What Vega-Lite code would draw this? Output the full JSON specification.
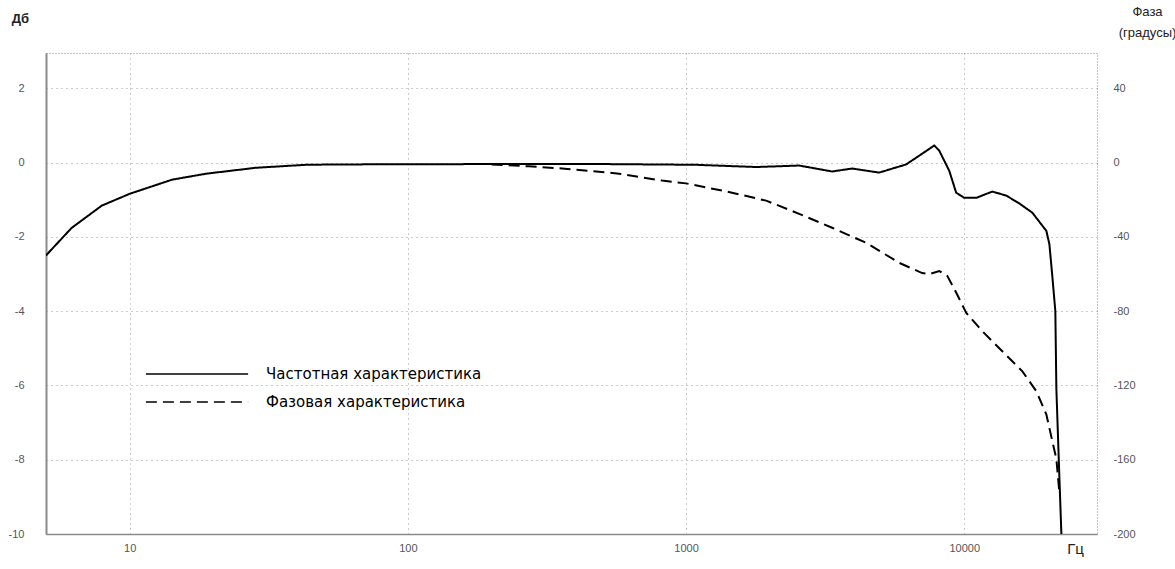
{
  "$schema": "https://vega.github.io/schema/vega-lite/v6.json",
  "autosize": "none",
  "width": 1051,
  "height": 481,
  "padding": {"left": 46, "top": 53, "right": 78, "bottom": 35},
  "background": "white",
  "config": {
    "font": "Liberation Sans",
    "view": {"stroke": "#8a8a8a", "strokeDash": [1, 2], "strokeWidth": 1},
    "axis": {"labelFont": "Liberation Sans", "labelFontSize": 11, "labelColor": "#555", "ticks": false, "titleFont": "Liberation Sans"}
  },
  "datasets": {
    "mag": [
      {"f": 5, "v": -2.5, "s": "Частотная характеристика"},
      {"f": 6.18, "v": -1.76, "s": "Частотная характеристика"},
      {"f": 7.93, "v": -1.16, "s": "Частотная характеристика"},
      {"f": 10, "v": -0.84, "s": "Частотная характеристика"},
      {"f": 14.2, "v": -0.46, "s": "Частотная характеристика"},
      {"f": 18.8, "v": -0.3, "s": "Частотная характеристика"},
      {"f": 28.4, "v": -0.14, "s": "Частотная характеристика"},
      {"f": 43, "v": -0.06, "s": "Частотная характеристика"},
      {"f": 57, "v": -0.05, "s": "Частотная характеристика"},
      {"f": 200, "v": -0.04, "s": "Частотная характеристика"},
      {"f": 500, "v": -0.04, "s": "Частотная характеристика"},
      {"f": 1087, "v": -0.06, "s": "Частотная характеристика"},
      {"f": 1786, "v": -0.12, "s": "Частотная характеристика"},
      {"f": 2549, "v": -0.08, "s": "Частотная характеристика"},
      {"f": 3349, "v": -0.24, "s": "Частотная характеристика"},
      {"f": 3953, "v": -0.16, "s": "Частотная характеристика"},
      {"f": 4943, "v": -0.27, "s": "Частотная характеристика"},
      {"f": 6180, "v": -0.05, "s": "Частотная характеристика"},
      {"f": 7060, "v": 0.24, "s": "Частотная характеристика"},
      {"f": 7800, "v": 0.46, "s": "Частотная характеристика"},
      {"f": 8130, "v": 0.32, "s": "Частотная характеристика"},
      {"f": 8830, "v": -0.22, "s": "Частотная характеристика"},
      {"f": 9350, "v": -0.81, "s": "Частотная характеристика"},
      {"f": 10000, "v": -0.95, "s": "Частотная характеристика"},
      {"f": 11050, "v": -0.95, "s": "Частотная характеристика"},
      {"f": 12610, "v": -0.78, "s": "Частотная характеристика"},
      {"f": 14160, "v": -0.89, "s": "Частотная характеристика"},
      {"f": 15770, "v": -1.1, "s": "Частотная характеристика"},
      {"f": 17570, "v": -1.35, "s": "Частотная характеристика"},
      {"f": 19730, "v": -1.84, "s": "Частотная характеристика"},
      {"f": 20230, "v": -2.2, "s": "Частотная характеристика"},
      {"f": 20750, "v": -3.1, "s": "Частотная характеристика"},
      {"f": 21250, "v": -4.0, "s": "Частотная характеристика"},
      {"f": 21430, "v": -6.08, "s": "Частотная характеристика"},
      {"f": 21980, "v": -8.5, "s": "Частотная характеристика"},
      {"f": 22340, "v": -10, "s": "Частотная характеристика"}
    ],
    "phase": [
      {"f": 200, "v": -1, "s": "Фазовая характеристика"},
      {"f": 272, "v": -2, "s": "Фазовая характеристика"},
      {"f": 358, "v": -3.2, "s": "Фазовая характеристика"},
      {"f": 486, "v": -4.9, "s": "Фазовая характеристика"},
      {"f": 574, "v": -6, "s": "Фазовая характеристика"},
      {"f": 820, "v": -9.7, "s": "Фазовая характеристика"},
      {"f": 1000, "v": -11.2, "s": "Фазовая характеристика"},
      {"f": 1463, "v": -16.2, "s": "Фазовая характеристика"},
      {"f": 1940, "v": -20.5, "s": "Фазовая характеристика"},
      {"f": 2549, "v": -27.6, "s": "Фазовая характеристика"},
      {"f": 3349, "v": -35.1, "s": "Фазовая характеристика"},
      {"f": 4437, "v": -43.2, "s": "Фазовая характеристика"},
      {"f": 5834, "v": -54, "s": "Фазовая характеристика"},
      {"f": 7060, "v": -59.5, "s": "Фазовая характеристика"},
      {"f": 7500, "v": -60, "s": "Фазовая характеристика"},
      {"f": 8130, "v": -58.4, "s": "Фазовая характеристика"},
      {"f": 8690, "v": -61, "s": "Фазовая характеристика"},
      {"f": 9350, "v": -70, "s": "Фазовая характеристика"},
      {"f": 10170, "v": -81, "s": "Фазовая характеристика"},
      {"f": 11610, "v": -90.8, "s": "Фазовая характеристика"},
      {"f": 13700, "v": -101.6, "s": "Фазовая характеристика"},
      {"f": 16180, "v": -112.4, "s": "Фазовая характеристика"},
      {"f": 18170, "v": -123.2, "s": "Фазовая характеристика"},
      {"f": 19730, "v": -135.7, "s": "Фазовая характеристика"},
      {"f": 20750, "v": -150.3, "s": "Фазовая характеристика"},
      {"f": 21430, "v": -159.5, "s": "Фазовая характеристика"},
      {"f": 21980, "v": -178, "s": "Фазовая характеристика"}
    ]
  },
  "layer": [
    {
      "data": {"name": "mag"},
      "mark": {"type": "line", "color": "black", "strokeWidth": 2, "clip": true},
      "encoding": {
        "x": {
          "field": "f", "type": "quantitative",
          "scale": {"type": "log", "domain": [5, 30000], "nice": false},
          "axis": {
            "values": [10, 100, 1000, 10000], "format": "d",
            "domainColor": "#8a8a8a", "domainWidth": 1.5,
            "grid": true, "gridColor": "#999", "gridDash": [1, 4], "gridWidth": 1,
            "labelPadding": 8,
            "title": "Гц", "titleFontSize": 15, "titleFontWeight": "normal", "titleColor": "#222",
            "titleX": 1029, "titleY": 14, "titleAlign": "center", "titleBaseline": "middle"
          }
        },
        "y": {
          "field": "v", "type": "quantitative",
          "scale": {"domain": [-10, 2.95], "nice": false, "zero": false},
          "axis": {
            "values": [-10, -8, -6, -4, -2, 0, 2],
            "labelExpr": "replace(datum.label, '−', '-')",
            "domainColor": "#8a8a8a", "domainWidth": 2,
            "grid": true, "gridColor": "#999", "gridDash": [1, 4], "gridWidth": 1,
            "labelPadding": 22,
            "title": "Дб", "titleAngle": 0, "titleFontSize": 13, "titleFontWeight": "bold", "titleColor": "#222",
            "titleX": -26, "titleY": -35, "titleAlign": "center", "titleBaseline": "middle"
          }
        },
        "strokeDash": {
          "field": "s", "type": "nominal",
          "scale": {"domain": ["Частотная характеристика", "Фазовая характеристика"], "range": [[1, 0], [11, 6]]},
          "legend": {
            "title": null, "orient": "none", "legendX": 143, "legendY": 313,
            "symbolType": "M-7.3,0H7.3", "symbolSize": 196, "symbolStrokeColor": "black", "symbolFillColor": "transparent", "symbolStrokeWidth": 1.6,
            "labelFont": "DejaVu Sans", "labelFontSize": 15, "labelColor": "black", "labelOffset": 61, "labelLimit": 0, "rowPadding": 12
          }
        }
      }
    },
    {
      "data": {"name": "phase"},
      "mark": {"type": "line", "color": "black", "strokeWidth": 2, "clip": true},
      "encoding": {
        "x": {"field": "f", "type": "quantitative", "scale": {"type": "log", "domain": [5, 30000], "nice": false}},
        "y": {
          "field": "v", "type": "quantitative",
          "scale": {"domain": [-200, 59], "nice": false, "zero": false},
          "axis": {
            "orient": "right",
            "values": [-200, -160, -120, -80, -40, 0, 40],
            "labelExpr": "replace(datum.label, '−', '-')",
            "domain": false, "grid": false,
            "labelPadding": 16,
            "title": ["Фаза", "(градусы)"], "titleAngle": 0, "titleFontSize": 13, "titleFontWeight": "normal", "titleColor": "#222",
            "titleX": 50, "titleY": -42, "titleAlign": "center", "titleBaseline": "middle", "titleLineHeight": 21
          }
        },
        "strokeDash": {"field": "s", "type": "nominal"}
      }
    }
  ],
  "resolve": {"scale": {"y": "independent"}}
}
